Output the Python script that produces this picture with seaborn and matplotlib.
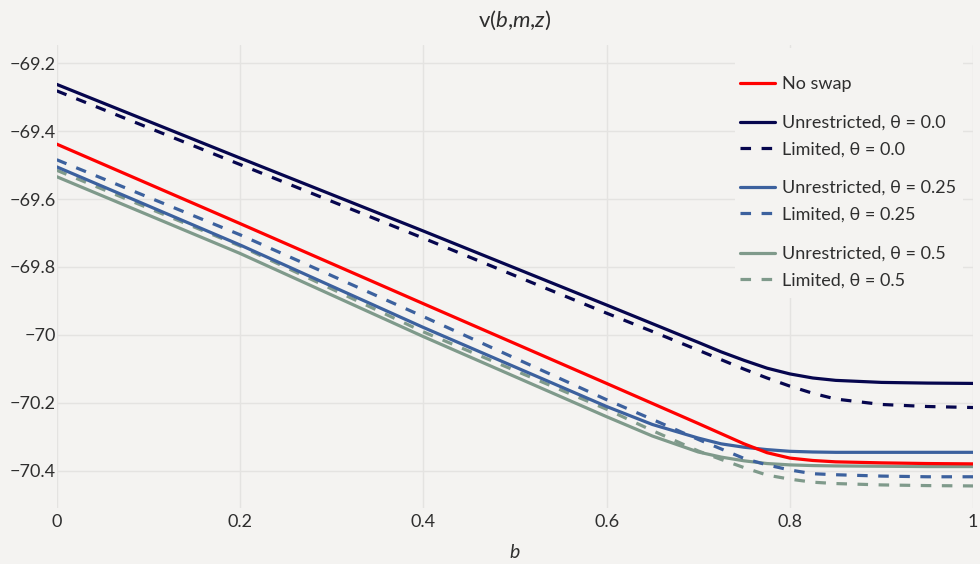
import numpy as np
import pandas as pd
import matplotlib
matplotlib.use("Agg")
import matplotlib.pyplot as plt
import seaborn as sns
from matplotlib.lines import Line2D
from matplotlib.patches import Rectangle
from matplotlib.ticker import FixedLocator

# ---- data ----
b_vals = [0, 0.2, 0.4, 0.6, 0.65, 0.7, 0.725, 0.75, 0.775, 0.8, 0.825, 0.85, 0.9, 0.95, 1.0]
no_swap = [-69.438, -69.672, -69.908, -70.143, -70.202, -70.261, -70.291, -70.321, -70.347, -70.363, -70.370, -70.374, -70.377, -70.379, -70.380]
unres_0 = [-69.262, -69.479, -69.694, -69.912, -69.967, -70.022, -70.050, -70.075, -70.098, -70.115, -70.127, -70.134, -70.140, -70.142, -70.143]
lim_0 = [-69.281, -69.498, -69.715, -69.936, -69.990, -70.045, -70.073, -70.101, -70.127, -70.151, -70.172, -70.189, -70.205, -70.211, -70.214]
unres_025 = [-69.505, -69.735, -69.978, -70.211, -70.264, -70.304, -70.321, -70.331, -70.338, -70.343, -70.345, -70.346, -70.346, -70.346, -70.346]
lim_025 = [-69.484, -69.705, -69.946, -70.191, -70.249, -70.308, -70.336, -70.364, -70.383, -70.398, -70.409, -70.412, -70.416, -70.418, -70.418]
unres_05 = [-69.534, -69.760, -70.005, -70.241, -70.298, -70.345, -70.360, -70.371, -70.379, -70.383, -70.385, -70.386, -70.387, -70.388, -70.388]
lim_05 = [-69.515, -69.738, -69.991, -70.219, -70.282, -70.342, -70.367, -70.391, -70.413, -70.425, -70.434, -70.438, -70.442, -70.444, -70.445]

x_ticks = [0, 0.2, 0.4, 0.6, 0.8, 1]
x_ticklabels = ["0", "0.2", "0.4", "0.6", "0.8", "1"]
y_ticks = [-69.2, -69.4, -69.6, -69.8, -70.0, -70.2, -70.4]
y_ticklabels = ["\u221269.2", "\u221269.4", "\u221269.6", "\u221269.8", "\u221270", "\u221270.2", "\u221270.4"]

# ---- style ----
BG = "#f4f3f1"
GRID = "#e4e3e1"
TXT = "#2e2e2e"
RED = "#ff0000"
NAVY = "#06064e"
BLUE = "#3c619e"
GREEN = "#7f9a8b"

sns.set_theme(style="whitegrid")
plt.rcParams["font.family"] = ["Lato", "DejaVu Sans"]
plt.rcParams["mathtext.fontset"] = "custom"
plt.rcParams["mathtext.rm"] = "Lato"
plt.rcParams["mathtext.it"] = "Lato:italic"

W, H = 980, 564
fig = plt.figure(figsize=(W / 100, H / 100), dpi=100, facecolor=BG)
x0, x1, ytop, ybot = 56.7, 973.2, 45, 508
ax = fig.add_axes([x0 / W, (H - ybot) / H, (x1 - x0) / W, (ybot - ytop) / H])
ax.set_facecolor(BG)

DASH = (0, (3.3, 3.3))
LW = 2.3
series = [
    ("No swap", no_swap, RED, "-"),
    ("Unrestricted, \u03b8 = 0.0", unres_0, NAVY, "-"),
    ("Limited, \u03b8 = 0.0", lim_0, NAVY, DASH),
    ("Unrestricted, \u03b8 = 0.25", unres_025, BLUE, "-"),
    ("Limited, \u03b8 = 0.25", lim_025, BLUE, DASH),
    ("Unrestricted, \u03b8 = 0.5", unres_05, GREEN, "-"),
    ("Limited, \u03b8 = 0.5", lim_05, GREEN, DASH),
]
draw_order = [6, 5, 4, 3, 0, 2, 1]
for k, i in enumerate(draw_order):
    name, vals, col, ls = series[i]
    df = pd.DataFrame({"b": b_vals, "v": vals})
    sns.lineplot(data=df, x="b", y="v", ax=ax, color=col, linestyle=ls,
                 linewidth=LW, legend=False, zorder=3 + k * 0.01)

ax.set_xlim(0, 1)
ax.set_ylim(-70.51, -69.146)
ax.xaxis.set_major_locator(FixedLocator(x_ticks))
ax.set_xticklabels(x_ticklabels)
ax.yaxis.set_major_locator(FixedLocator(y_ticks))
ax.set_yticklabels(y_ticklabels)
ax.grid(True, color=GRID, linewidth=1)
for s in ax.spines.values():
    s.set_visible(False)
ax.tick_params(axis="both", length=0, labelsize=13, colors=TXT)
ax.tick_params(axis="y", pad=0.5)
ax.tick_params(axis="x", pad=4)
ax.set_xlabel("")
ax.set_ylabel("")

fig.text(515 / W, 1 - 20 / H, r"v($b$,$m$,$z$)", ha="center", va="center", fontsize=16, color=TXT)
fig.text(515 / W, 1 - 552 / H, r"$b$", ha="center", va="center", fontsize=14, color=TXT)

# legend background covering gridlines
ax.add_patch(Rectangle((735 / W, (H - 298) / H), (963 - 735) / W, (298 - 48) / H,
                       transform=fig.transFigure, facecolor=BG, edgecolor="none", zorder=1))

groups = [[0], [1, 2], [3, 4], [5, 6]]
first_rows = [82, 121, 186, 252]
for g, yc in zip(groups, first_rows):
    handles = [Line2D([], [], color=series[i][2], linestyle=series[i][3], linewidth=LW) for i in g]
    labels = [series[i][0] for i in g]
    fig.legend(handles, labels, loc="upper left",
               bbox_to_anchor=(740 / W, 1 - (yc - 6) / H),
               frameon=False, fontsize=13, handlelength=1.95, handletextpad=0.4,
               labelspacing=0.57, borderpad=0, borderaxespad=0, labelcolor=TXT)

fig.savefig("out.png", dpi=100, facecolor=BG)
